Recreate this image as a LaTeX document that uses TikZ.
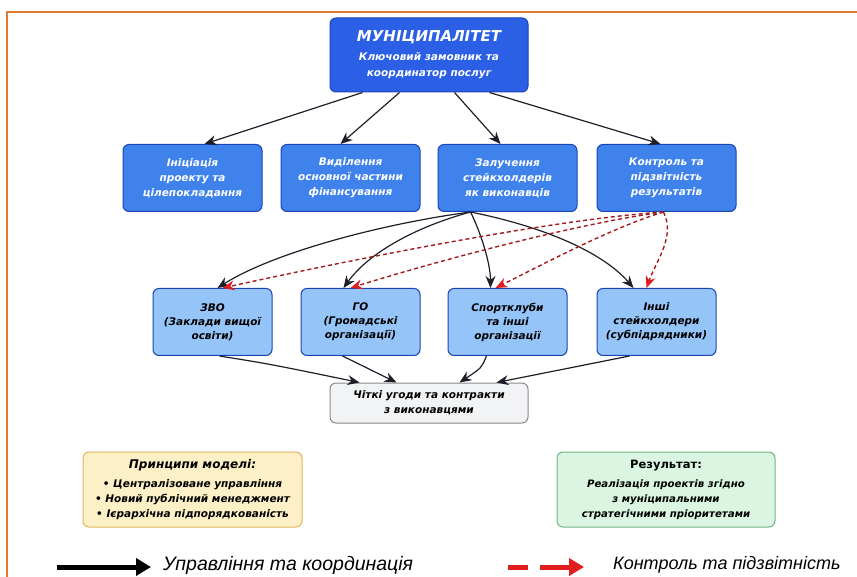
\documentclass[tikz,border=0pt]{standalone}
\usepackage{fontspec}
\setmainfont{DejaVu Sans}
\newfontfamily\legendfont{Liberation Sans}
\usetikzlibrary{arrows.meta}
\definecolor{frameor}{HTML}{E07A30}
\definecolor{topblue}{HTML}{2A5FE6}
\definecolor{midblue}{HTML}{3F82EC}
\definecolor{lowblue}{HTML}{95C4F8}
\definecolor{bordblue}{HTML}{1A45B5}
\definecolor{ctrgray}{HTML}{F2F3F5}
\definecolor{ctrbord}{HTML}{8A8A8A}
\definecolor{yelfill}{HTML}{FDF0C6}
\definecolor{yelbord}{HTML}{E2B45A}
\definecolor{grnfill}{HTML}{DAF5E2}
\definecolor{grnbord}{HTML}{72B487}
\definecolor{dashred}{HTML}{A31A1A}
\definecolor{tipred}{HTML}{E01E1E}
\definecolor{arrblack}{HTML}{1E1E2A}
\tikzset{
  boxbase/.style={rounded corners=6pt, line width=1pt, align=center, inner sep=2pt},
  topbox/.style={boxbase, draw=bordblue, fill=topblue, minimum width=198pt, minimum height=74pt, text=white, font=\bfseries\itshape\fontsize{10.5}{16}\selectfont},
  midbox/.style={boxbase, draw=bordblue, fill=midblue, minimum width=139pt, minimum height=67pt, text=white, font=\bfseries\itshape\fontsize{10.5}{15}\selectfont},
  lowbox/.style={boxbase, draw=bordblue, fill=lowblue, minimum width=119pt, minimum height=67pt, text=black, font=\bfseries\itshape\fontsize{10.5}{14}\selectfont},
  ctrbox/.style={boxbase, draw=ctrbord, fill=ctrgray, minimum width=198pt, minimum height=40pt, text=black, font=\bfseries\itshape\fontsize{10.5}{15}\selectfont},
  yelbox/.style={boxbase, draw=yelbord, fill=yelfill, minimum width=219pt, minimum height=75pt, font=\bfseries\itshape\fontsize{10.5}{15}\selectfont},
  grnbox/.style={boxbase, draw=grnbord, fill=grnfill, minimum width=218pt, minimum height=75pt, font=\bfseries\itshape\fontsize{10.2}{15}\selectfont},
  ctrlarrow/.style={draw=arrblack, line width=1.2pt, -{Stealth[length=12pt,width=10pt]}},
  redarrow/.style={draw=dashred, line width=1.4pt, dash pattern=on 4pt off 3pt, -{Stealth[length=12pt,width=10pt,fill=tipred,color=tipred]}},
}
\begin{document}
\begin{tikzpicture}[x=1pt,y=-1pt]
\useasboundingbox (0,0) rectangle (857,577);
% frame
\draw[frameor, line width=1.4pt] (7,590) -- (7,12) -- (870,12);

% top node
\node[topbox] (mun) at (429,55) {{\fontsize{15}{17}\selectfont МУНІЦИПАЛІТЕТ}\\[3pt]Ключовий замовник та\\координатор послуг};

% row 2
\node[midbox] (m1) at (192.5,178) {Ініціація\\проекту та\\цілепокладання};
\node[midbox] (m2) at (350.5,178) {Виділення\\основної частини\\фінансування};
\node[midbox] (m3) at (507.5,178) {Залучення\\стейкхолдерів\\як виконавців};
\node[midbox] (m4) at (666.5,178) {Контроль та\\підзвітність\\результатів};

% row 3
\node[lowbox] (l1) at (212.5,322) {ЗВО\\(Заклади вищої\\освіти)};
\node[lowbox] (l2) at (360.5,322) {ГО\\(Громадські\\організації)};
\node[lowbox] (l3) at (507.5,322) {Спортклуби\\та інші\\організації};
\node[lowbox] (l4) at (656.5,322) {Інші\\стейкхолдери\\(субпідрядники)};

% contract
\node[ctrbox] (ctr) at (429,403) {Чіткі угоди та контракти\\з виконавцями};

% bottom boxes
\node[yelbox] (pr) at (192.5,489.5) {{\fontsize{12}{14}\selectfont Принципи моделі:}\\[4pt]• Централізоване управління\\• Новий публічний менеджмент\\• Ієрархічна підпорядкованість};
\node[grnbox] (rs) at (666,489.5) {{\upshape\fontsize{11.5}{14}\selectfont Результат:}\\[4pt]Реалізація проектів згідно\\з муніципальними\\стратегічними пріоритетами};

% top -> row 2
\draw[ctrlarrow] ([xshift=33pt]mun.south west) -- ([xshift=12pt]m1.north);
\draw[ctrlarrow] ([xshift=70pt]mun.south west) -- ([xshift=-10pt]m2.north);
\draw[ctrlarrow] ([xshift=125pt]mun.south west) -- ([xshift=-7pt]m3.north);
\draw[ctrlarrow] ([xshift=160pt]mun.south west) -- ([xshift=-6pt]m4.north);

% row 2 -> row 3 (coordination)
\draw[ctrlarrow] ([xshift=-37pt]m3.south) .. controls +(-90,12) and +(55,-35) .. ([xshift=5pt]l1.north);
\draw[ctrlarrow] ([xshift=-37pt]m3.south) .. controls +(-55,15) and +(25,-35) .. ([xshift=-17pt]l2.north);
\draw[ctrlarrow] ([xshift=-37pt]m3.south) .. controls +(10,20) and +(0,-25) .. ([xshift=-17pt]l3.north);
\draw[ctrlarrow] ([xshift=-37pt]m3.south) .. controls +(75,15) and +(-30,-35) .. ([xshift=-23pt]l4.north);

% control (red dashed)
\draw[redarrow] ([xshift=-3pt]m4.south) .. controls +(-120,8) and +(100,-22) .. ([xshift=10pt]l1.north);
\draw[redarrow] ([xshift=-3pt]m4.south) .. controls +(-90,12) and +(80,-25) .. ([xshift=-10pt]l2.north);
\draw[redarrow] ([xshift=-3pt]m4.south) .. controls +(-50,15) and +(50,-25) .. ([xshift=-12pt]l3.north);
\draw[redarrow] ([xshift=-3pt]m4.south) .. controls +(12,25) and +(10,-28) .. ([xshift=-10pt]l4.north);

% row 3 -> contract
\draw[ctrlarrow] ([xshift=67pt]l1.south west) .. controls +(50,8) .. ([xshift=30pt]ctr.north west);
\draw[ctrlarrow] ([xshift=42pt]l2.south west) -- ([xshift=67pt]ctr.north west);
\draw[ctrlarrow] ([xshift=39pt]l3.south west) .. controls +(-5,12) .. ([xshift=130pt]ctr.north west);
\draw[ctrlarrow] ([xshift=33pt]l4.south west) .. controls +(-60,12) .. ([xshift=167pt]ctr.north west);

% legend
\coordinate (lgA) at (57,567);
\coordinate (lgB) at (151,567);
\draw[black, line width=5pt, -{Triangle[length=15pt,width=17pt]}] (lgA) -- (lgB);
\node[anchor=west, font=\legendfont\itshape\fontsize{19.5}{21}\selectfont, inner sep=0pt] (lgT1) at (163,565) {Управління та координація};
\coordinate (lgC) at (508,567);
\coordinate (lgD) at (528,567);
\coordinate (lgE) at (540,567);
\coordinate (lgF) at (584,567);
\draw[tipred, line width=5pt] (lgC) -- (lgD);
\draw[tipred, line width=5pt, -{Triangle[length=15pt,width=17pt]}] (lgE) -- (lgF);
\node[anchor=west, font=\legendfont\itshape\fontsize{18}{20}\selectfont, inner sep=0pt] (lgT2) at (613,565) {Контроль та підзвітність};
\end{tikzpicture}
\end{document}
